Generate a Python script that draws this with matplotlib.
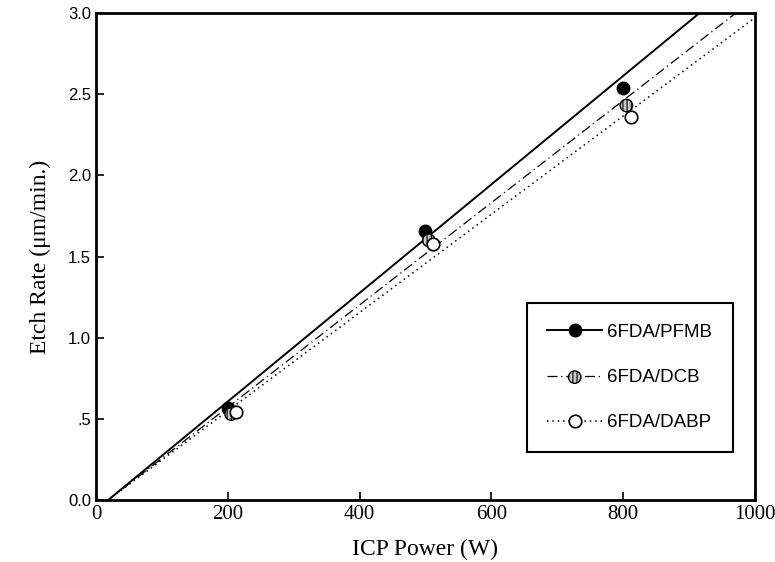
import matplotlib.pyplot as plt
from matplotlib.lines import Line2D
from matplotlib.legend_handler import HandlerTuple

# data
power_pfmb = [200, 500, 800]
rate_pfmb = [0.57, 1.66, 2.54]
power_dcb = [205, 505, 805]
rate_dcb = [0.53, 1.60, 2.43]
power_dabp = [212, 512, 812]
rate_dabp = [0.54, 1.58, 2.36]

# fitted lines (end points)
fit_x = [18, 1000]
fit_pfmb = [0.0, 3.28]
fit_dcb = [0.0, 3.09]
fit_dabp = [0.0, 2.97]

plt.rcParams['hatch.linewidth'] = 0.8

fig = plt.figure(figsize=(7.75, 5.62), dpi=100)
ax = fig.add_axes([0.124, 0.110, 0.850, 0.867])

ax.plot(fit_x, fit_pfmb, color='black', lw=1.4, ls='-')
ax.plot(fit_x, fit_dcb, color='black', lw=0.9, ls=(0, (8, 3, 1, 3)))
ax.plot(fit_x, fit_dabp, color='black', lw=1.1, ls=(0, (1, 2.5)))

ax.plot(power_pfmb, rate_pfmb, 'o', color='black', ms=9, zorder=5)
dcb = ax.scatter(power_dcb, rate_dcb, s=80, facecolor='#c8c8c8', edgecolor='black',
                 hatch='||||', linewidth=1.0, zorder=5)
ax.plot(power_dabp, rate_dabp, 'o', mfc='white', mec='black', mew=1.2, ms=9, zorder=6)

ax.set_xlim(0, 1000)
ax.set_ylim(0, 3.0)
ax.set_xticks([0, 200, 400, 600, 800, 1000])
ax.set_yticks([0, 0.5, 1.0, 1.5, 2.0, 2.5, 3.0])
ax.set_yticklabels(['0.0', '.5', '1.0', '1.5', '2.0', '2.5', '3.0'],
                   fontfamily='Liberation Sans', fontsize=12)
ax.set_xticklabels(['0', '200', '400', '600', '800', '1000'],
                   fontfamily='Liberation Serif', fontsize=15)
ax.tick_params(direction='in', length=6, width=1.2, top=False, right=False)
for s in ax.spines.values():
    s.set_linewidth(2)

ax.set_xlabel('ICP Power (W)', fontfamily='Liberation Serif', fontsize=17, labelpad=11)
ax.set_ylabel('Etch Rate (\u03bcm/min.)', fontfamily='Liberation Serif', fontsize=17, labelpad=12)

h_pfmb = Line2D([], [], color='black', lw=1.4, ls='-', marker='o', ms=9, markevery=[1])
h_dcb_line = Line2D([], [], color='black', lw=0.9, ls=(0, (8, 3, 1, 3)))
h_dabp = Line2D([], [], color='black', lw=1.1, ls=(0, (1, 2.5)), marker='o', ms=9,
                mfc='white', mec='black', mew=1.2, markevery=[1])
leg = ax.legend([h_pfmb, (h_dcb_line, dcb), h_dabp], ['6FDA/PFMB', '6FDA/DCB', '6FDA/DABP'],
                loc='lower right', bbox_to_anchor=(0.967, 0.099), borderaxespad=0,
                prop={'family': 'Liberation Sans', 'size': 13.5},
                handler_map={tuple: HandlerTuple(ndivide=1, pad=0)},
                handlelength=2.9, labelspacing=1.5, borderpad=1.1, scatterpoints=1,
                handletextpad=0.3, fancybox=False, framealpha=1, edgecolor='black')
leg.get_frame().set_linewidth(1.5)

fig.savefig('out.png', dpi=100)
